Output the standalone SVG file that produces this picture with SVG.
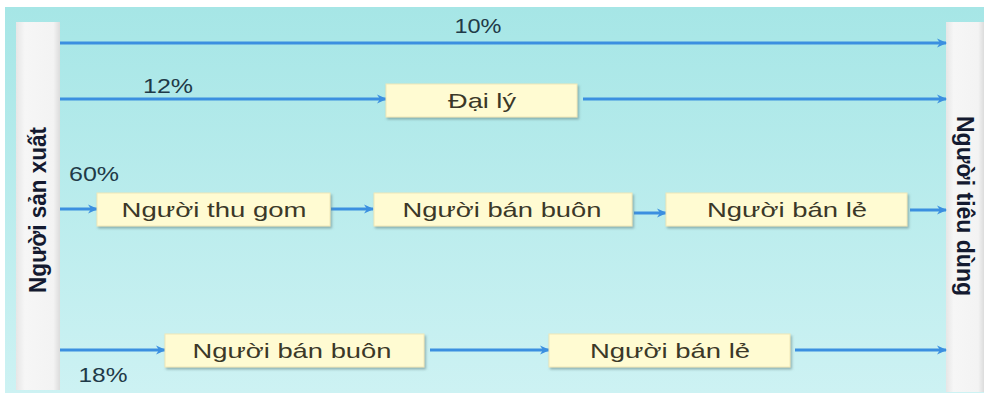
<svg xmlns="http://www.w3.org/2000/svg" width="984" height="393" viewBox="0 0 984 393">
<defs>
<linearGradient id="bg" x1="0" y1="0" x2="0" y2="1">
<stop offset="0" stop-color="#a6e6e6"/>
<stop offset="1" stop-color="#cdf2f3"/>
</linearGradient>
<linearGradient id="bar" x1="0" y1="0" x2="1" y2="0">
<stop offset="0" stop-color="#e6e6e6"/>
<stop offset="0.2" stop-color="#f6f6f6"/>
<stop offset="0.85" stop-color="#f3f3f3"/>
<stop offset="1" stop-color="#dcdcdc"/>
</linearGradient>
<marker id="ah" markerWidth="12" markerHeight="12" refX="9" refY="6" orient="auto" markerUnits="userSpaceOnUse">
<path d="M0,1.5 L10,6 L0,10.5 L3,6 Z" fill="#3b8fe0"/>
</marker>
<filter id="sh" x="-5%" y="-20%" width="115%" height="150%">
<feDropShadow dx="1.5" dy="2" stdDeviation="1" flood-color="#6a8a8a" flood-opacity="0.6"/>
</filter>
</defs>
<style>
.box{fill:#fffbd2;stroke:#f0e8b8;stroke-width:1;filter:url(#sh)}
.bt{font-family:"Liberation Sans",Arial,sans-serif;font-size:21px;fill:#3b3828;text-anchor:middle}
.pct{font-family:"Liberation Sans",Arial,sans-serif;font-size:20px;fill:#1f3a48;text-anchor:middle}
.vt{font-family:"Liberation Sans",Arial,sans-serif;font-size:23px;font-weight:bold;fill:#141a30;text-anchor:middle}
.ln{stroke:#3b8fe0;stroke-width:3;fill:none;marker-end:url(#ah)}
</style>
<rect x="0" y="0" width="984" height="393" fill="#ffffff"/>
<rect x="5" y="7" width="979" height="386" fill="url(#bg)"/>
<g id="producer">
<rect x="16" y="22" width="44" height="368" fill="url(#bar)"/>
<text class="vt" transform="translate(46,210) rotate(-90)" textLength="166" lengthAdjust="spacingAndGlyphs">Người sản xuất</text>
</g>
<g id="consumer">
<rect x="946" y="22" width="38" height="370" fill="url(#bar)"/>
<text class="vt" transform="translate(957,206) rotate(90)" textLength="180" lengthAdjust="spacingAndGlyphs">Người tiêu dùng</text>
</g>
<g id="connectors">
<line class="ln" x1="60" y1="43" x2="946" y2="43"/>
<line class="ln" x1="60" y1="99" x2="386" y2="99"/>
<line class="ln" x1="583" y1="99" x2="946" y2="99"/>
<line class="ln" x1="60" y1="209" x2="97" y2="209"/>
<line class="ln" x1="331" y1="209" x2="373" y2="209"/>
<line class="ln" x1="634" y1="213" x2="666" y2="213"/>
<line class="ln" x1="910" y1="210" x2="946" y2="210"/>
<line class="ln" x1="60" y1="350" x2="165" y2="350"/>
<line class="ln" x1="430" y1="350" x2="549" y2="350"/>
<line class="ln" x1="795" y1="350" x2="946" y2="350"/>
</g>
<g id="labels">
<text class="pct" x="478" y="33" textLength="47" lengthAdjust="spacingAndGlyphs">10%</text>
<text class="pct" x="168" y="93" textLength="50" lengthAdjust="spacingAndGlyphs">12%</text>
<text class="pct" x="94" y="181" textLength="50" lengthAdjust="spacingAndGlyphs">60%</text>
<text class="pct" x="103" y="382" textLength="49" lengthAdjust="spacingAndGlyphs">18%</text>
</g>
<g id="dai-ly">
<rect class="box" x="386" y="84" width="191" height="33"/>
<text class="bt" x="482" y="108" textLength="68" lengthAdjust="spacingAndGlyphs">Đại lý</text>
</g>
<g id="thu-gom">
<rect class="box" x="97" y="193" width="233" height="33"/>
<text class="bt" x="214" y="217" textLength="185" lengthAdjust="spacingAndGlyphs">Người thu gom</text>
</g>
<g id="ban-buon-1">
<rect class="box" x="374" y="193" width="258" height="33"/>
<text class="bt" x="502" y="217" textLength="199" lengthAdjust="spacingAndGlyphs">Người bán buôn</text>
</g>
<g id="ban-le-1">
<rect class="box" x="666" y="193" width="241" height="33"/>
<text class="bt" x="787" y="217" textLength="160" lengthAdjust="spacingAndGlyphs">Người bán lẻ</text>
</g>
<g id="ban-buon-2">
<rect class="box" x="165" y="334" width="259" height="33"/>
<text class="bt" x="292" y="358" textLength="199" lengthAdjust="spacingAndGlyphs">Người bán buôn</text>
</g>
<g id="ban-le-2">
<rect class="box" x="549" y="334" width="241" height="33"/>
<text class="bt" x="670" y="358" textLength="160" lengthAdjust="spacingAndGlyphs">Người bán lẻ</text>
</g>
</svg>
